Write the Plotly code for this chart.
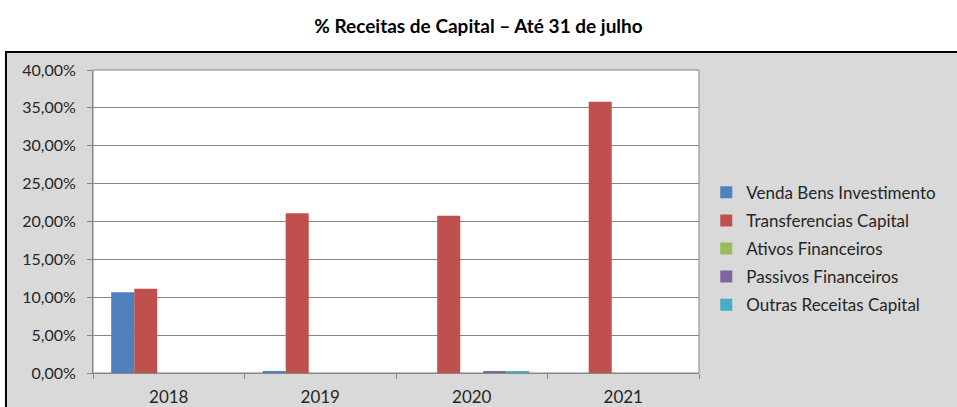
import plotly.graph_objects as go

# Receitas de capital, % ate 31 de julho
anos = ['2018', '2019', '2020', '2021']
venda_bens = [0.1065, 0.0020, 0.0, 0.0]
transferencias = [0.1113, 0.2108, 0.2077, 0.3582]
ativos_fin = [0.0, 0.0, 0.0, 0.0]
passivos_fin = [0.0, 0.0, 0.0020, 0.0]
outras_rec = [0.0, 0.0, 0.0020, 0.0]

series = [
    ('Venda Bens Investimento', venda_bens, '#4f81bd'),
    ('Transferencias Capital', transferencias, '#c0504d'),
    ('Ativos Financeiros', ativos_fin, '#9bbb59'),
    ('Passivos Financeiros', passivos_fin, '#8064a2'),
    ('Outras Receitas Capital', outras_rec, '#4bacc6'),
]

FONT = 'Lato'

fig = go.Figure()
for nome, vals, cor in series:
    fig.add_trace(go.Bar(name=nome, x=anos, y=vals, marker_color=cor,
                         marker_line_width=0, legendgroup=nome))

fig.update_layout(
    width=957, height=407,
    margin=dict(l=93, r=258, t=70, b=34),
    paper_bgcolor='white', plot_bgcolor='white',
    separators=',.',
    barmode='group', bargap=0.24, bargroupgap=0,
    font=dict(family=FONT, size=16, color='#262626'),
    title=dict(text='<b>% Receitas de Capital – Até 31 de julho</b>',
               x=0.5, xref='container', xanchor='center',
               y=0.935, yanchor='middle',
               font=dict(family=FONT, size=19, color='black')),
    legend=dict(x=1.012, xanchor='left', y=0.41, yanchor='middle',
                bgcolor='rgba(0,0,0,0)', tracegroupgap=3,
                font=dict(family=FONT, size=17, color='#262626')),
    shapes=[
        dict(type='rect', xref='paper', yref='paper', layer='below',
             x0=-0.1436, x1=1.6, y0=-0.3, y1=1.0594,
             fillcolor='#d9d9d9', line=dict(color='black', width=2)),
        dict(type='rect', xref='paper', yref='paper', layer='below',
             x0=0, x1=1, y0=0, y1=1,
             fillcolor='white', line=dict(color='#868686', width=1)),
    ],
)

fig.update_yaxes(range=[0, 0.40], dtick=0.05, tickformat='.2%',
                 showgrid=True, gridcolor='#868686', gridwidth=1,
                 ticks='outside', ticklen=5, tickcolor='#868686',
                 showline=True, linecolor='#868686', zeroline=False,
                 ticklabelstandoff=8, tickfont=dict(size=16),
                 automargin=False)
fig.update_xaxes(ticks='outside', ticklen=5, tickcolor='#868686',
                 tickson='boundaries', showline=True, linecolor='#868686',
                 mirror=False, tickfont=dict(size=17), ticklabelstandoff=9,
                 automargin=False)

fig.write_html('out.html', config={'displayModeBar': False},
               post_script="document.body.style.margin='0';"
                           "document.body.style.overflow='hidden';")
